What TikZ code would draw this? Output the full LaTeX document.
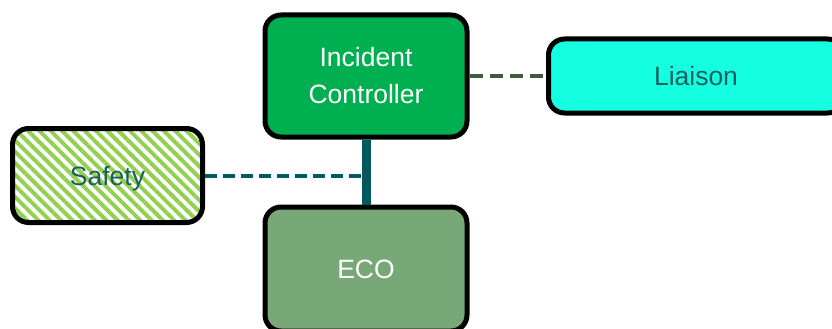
\documentclass[tikz,border=0pt]{standalone}
\usepackage{fontspec}
\setmainfont{Liberation Sans}
\usetikzlibrary{patterns.meta}
\definecolor{icgreen}{HTML}{00B050}
\definecolor{ecogreen}{HTML}{78A878}
\definecolor{liaisoncyan}{HTML}{14FFE2}
\definecolor{safetystripe}{HTML}{92D050}
\definecolor{darkteal}{HTML}{005A5E}
\definecolor{darkolive}{HTML}{3D5C3D}
\definecolor{labelteal}{HTML}{1A5E60}

\begin{document}
\begin{tikzpicture}[x=1pt,y=-1pt,
  box/.style={draw=black,line width=5pt,rounded corners=16pt,inner sep=0pt,
    align=center,font=\fontsize{26.5}{37}\selectfont},
  bigbox/.style={box,minimum width=202pt,minimum height=122pt}]
\useasboundingbox (0,0) rectangle (832,329);
% boxes
\node[bigbox,fill=icgreen,text=white] (ic) at (366,76) {Incident\\Controller};
\node[bigbox,fill=ecogreen,text=white,minimum height=124pt] (eco) at (366,269) {ECO};
\node[box,fill=liaisoncyan,text=labelteal,minimum width=295pt,minimum height=74pt] (liaison) at (696,76) {Liaison};
\node[box,pattern={Lines[angle=-45,distance=8pt,line width=4pt]},pattern color=safetystripe,
  text=labelteal,minimum width=190pt,minimum height=94pt] (safety) at (107.5,175.5) {\raisebox{-3pt}[\height][\depth]{Safety}};
% links
\draw[line width=9pt,darkteal] (ic.south) -- (eco.north);
\draw[line width=4pt,darkteal,dash pattern=on 12pt off 6pt] (safety.east) -- (safety.east -| ic.south);
\draw[line width=4pt,darkolive,dash pattern=on 13pt off 7pt] (ic.east) -- (liaison.west);
\end{tikzpicture}
\end{document}
